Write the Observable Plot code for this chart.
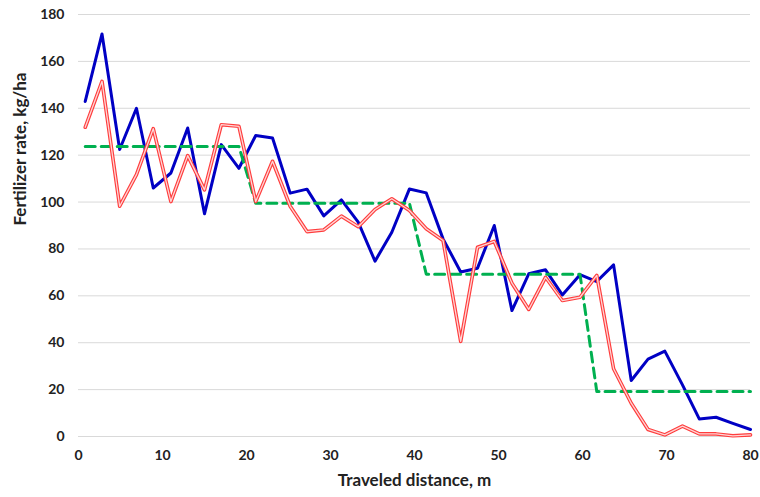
<!DOCTYPE html>
<html>
<head>
<meta charset="utf-8">
<script src="https://cdn.jsdelivr.net/npm/d3@7"></script>
<script src="https://cdn.jsdelivr.net/npm/@observablehq/plot@0.6"></script>
<style>
  html, body { margin: 0; padding: 0; background: #ffffff; }
  #chart svg { display: block; }
</style>
</head>
<body>
<div id="chart"></div>
<script>
const distance = [0.8, 2.8, 4.9, 6.9, 8.9, 11.0, 13.0, 15.0, 17.0, 19.1,
                  21.1, 23.1, 25.2, 27.2, 29.2, 31.3, 33.3, 35.3, 37.3, 39.4,
                  41.4, 43.4, 45.5, 47.5, 49.5, 51.6, 53.6, 55.6, 57.6, 59.7,
                  61.7, 63.7, 65.8, 67.8, 69.8, 71.9, 73.9, 75.9, 77.9, 80.0];
const blueRate = [142.9, 171.7, 122.4, 140.0, 106.0, 112.4, 131.6, 95.0, 124.5, 114.4,
                  128.4, 127.3, 103.8, 105.5, 94.1, 100.9, 91.4, 74.8, 87.1, 105.6,
                  103.9, 84.3, 70.2, 71.8, 90.0, 53.7, 69.4, 71.1, 60.4, 69.0,
                  66.1, 73.2, 23.9, 33.0, 36.4, 22.0, 7.5, 8.2, 5.6, 3.0];
const redRate = [131.9, 151.5, 98.2, 111.7, 131.3, 100.2, 119.8, 105.2, 133.0, 132.3,
                 100.2, 117.4, 98.2, 87.4, 88.1, 94.0, 89.5, 96.8, 101.4, 96.4,
                 88.6, 83.6, 40.6, 80.7, 83.2, 65.4, 54.2, 67.9, 58.0, 59.4,
                 68.7, 28.9, 14.2, 3.0, 0.7, 4.4, 1.1, 1.1, 0.3, 0.7];
const targetRate = [123.7, 123.7, 123.7, 123.7, 123.7, 123.7, 123.7, 123.7, 123.7, 123.7,
                    99.5, 99.5, 99.5, 99.5, 99.5, 99.5, 99.5, 99.5, 99.5, 99.5,
                    69.2, 69.2, 69.2, 69.2, 69.2, 69.2, 69.2, 69.2, 69.2, 69.2,
                    19.2, 19.2, 19.2, 19.2, 19.2, 19.2, 19.2, 19.2, 19.2, 19.2];
const xTicks = [0, 10, 20, 30, 40, 50, 60, 70, 80];
const yTicks = [0, 20, 40, 60, 80, 100, 120, 140, 160, 180];
const xTitle = "Traveled distance, m";
const yTitle = "Fertilizer rate, kg/ha";

const rows = distance.map((d, i) => ({x: d, blue: blueRate[i], red: redRate[i], target: targetRate[i]}));

const chart = Plot.plot({
  width: 760,
  height: 497,
  marginLeft: 78,
  marginRight: 10,
  marginTop: 14,
  marginBottom: 61,
  style: {fontFamily: "Lato, 'Open Sans', sans-serif", fontWeight: "bold", fontSize: "14px", color: "#222", background: "#ffffff"},
  x: {domain: [0, 80]},
  y: {domain: [0, 180]},
  marks: [
    Plot.gridY(yTicks, {stroke: "#d9d9d9", strokeOpacity: 1, strokeWidth: 1}),
    Plot.axisY(yTicks, {tickSize: 0, tickPadding: 14, label: null, fontWeight: "bold"}),
    Plot.axisX(xTicks, {tickSize: 0, tickPadding: 14, label: null, fontWeight: "bold"}),
    Plot.line(rows, {x: "x", y: "blue", stroke: "#0000c4", strokeWidth: 3}),
    Plot.line(rows, {x: "x", y: "target", stroke: "#00b050", strokeWidth: 3, strokeDasharray: "10,6"}),
    Plot.line(rows, {x: "x", y: "red", stroke: "#ff3d3d", strokeWidth: 3.6}),
    Plot.line(rows, {x: "x", y: "red", stroke: "#ffd6d6", strokeWidth: 1.3}),
    Plot.text([xTitle], {frameAnchor: "bottom", dy: 49, fontSize: 17, fontWeight: "bold", fill: "#222"}),
    Plot.text([yTitle], {frameAnchor: "left", dx: -58, rotate: -90, fontSize: 17, fontWeight: "bold", fill: "#222"})
  ]
});
document.getElementById("chart").appendChild(chart);
</script>
</body>
</html>
